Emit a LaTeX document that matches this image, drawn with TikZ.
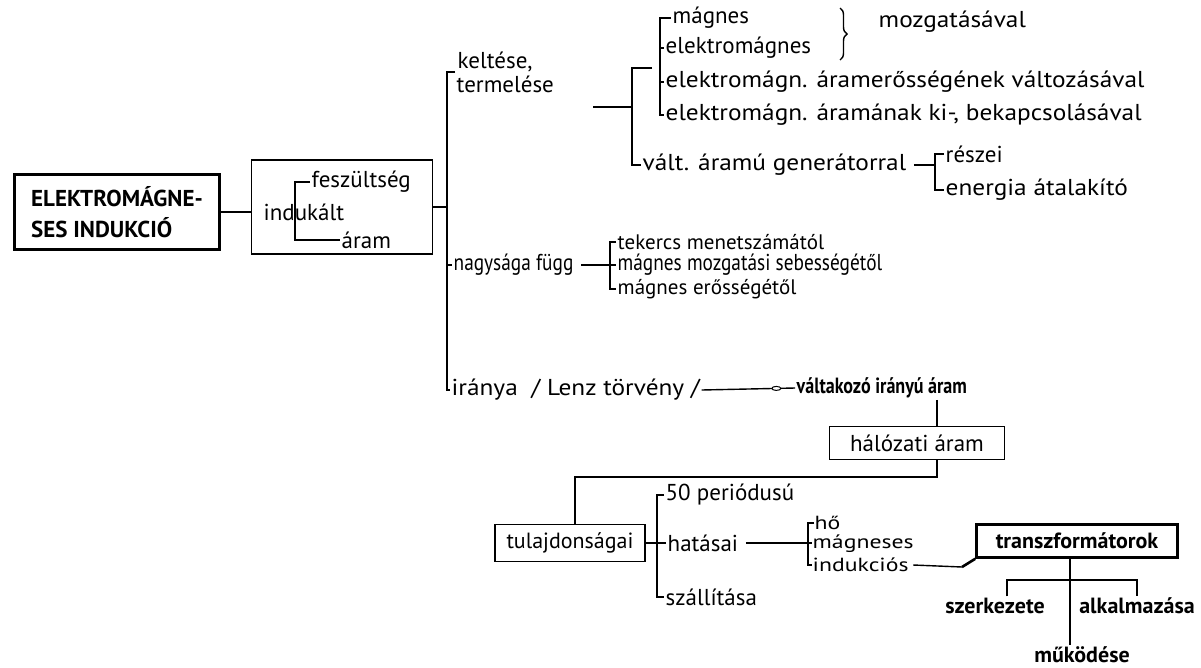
\documentclass[tikz,border=0pt]{standalone}
\usepackage{fontspec}
\setmainfont{PT Sans}
\newfontfamily\narrowfont[FakeStretch=0.84]{PT Sans}
\newfontfamily\widefont[FakeStretch=1.1]{PT Sans}
\newfontfamily\extrafont[FakeStretch=1.25]{PT Sans}
\newfontfamily\thinbold[FakeStretch=0.82]{PT Sans}
\usetikzlibrary{decorations.pathreplacing,shapes.geometric}

\newcommand{\fs}{\fontsize{23}{25}\selectfont}
\newcommand{\fw}{\widefont\fontsize{23}{25}\selectfont}
\newcommand{\fn}{\narrowfont\fontsize{23}{25}\selectfont}
\newcommand{\fx}{\extrafont\fontsize{19}{21}\selectfont}
\newcommand{\fb}{\fontsize{22}{24}\selectfont\bfseries}
\newcommand{\fv}{\thinbold\fontsize{22}{24}\selectfont\bfseries}
\tikzset{
  lbl/.style={anchor=west,inner sep=1pt,font=\fs},
  item/.style={inner sep=1pt,font=\fb},
  frame/.style={draw,line width=1.4pt,inner sep=2pt,font=\fs},
  heavyframe/.style={draw,line width=2.6pt,inner sep=3pt},
  knot/.style={draw,ellipse,fill=white,minimum width=9pt,minimum height=4pt,inner sep=0pt,line width=1pt}
}

\begin{document}
\begin{tikzpicture}[x=1pt,y=-1pt,line width=1.4pt]
  \useasboundingbox (0,0) rectangle (1201,667);

  % left boxes
  \node[heavyframe,align=left,minimum width=205pt,minimum height=75pt,
        font=\fontsize{23}{31}\selectfont\bfseries] (main) at (117,212)
        {ELEKTROMÁGNE-\\SES INDUKCIÓ};
  \node[frame,minimum width=181pt,minimum height=94pt] (indbox) at (342,207) {};
  \node[lbl] (indukalt) at (262,212) {indukált};
  \node[lbl] (feszult) at (310,182) {feszültség};
  \node[lbl] (aramb) at (340,240) {áram};
  \coordinate (ispine) at (295,240);
  \draw (feszult.west) -| (ispine) -- (aramb.west);
  \draw (main.east) -- (main.east -| indbox.west);

  % main spine
  \coordinate (sptop) at (447,72);
  \node[lbl] (keltes) at (456,62) {keltése,};
  \node[lbl] (termel) at (455,84) {termelése};
  \node[lbl,font=\fw] (iranya) at (450,390) {iránya~~/ Lenz törvény /};
  \node[lbl,font=\fn] (nagysag) at (452,265) {nagysága függ};
  \draw (sptop -| termel.west) -- (sptop) |- (iranya.west);
  \draw (indbox.east) -- (indbox.east -| sptop);
  \draw (nagysag.west -| sptop) -- (nagysag.west);

  % keltese, termelese
  \coordinate (tline) at (593,107);
  \coordinate (gtop) at (632,68);
  \coordinate (gstub) at (652,68);
  \node[lbl,font=\fw] (valt) at (641,165) {vált. áramú generátorral};
  \draw (tline) -- (tline -| gtop);
  \draw (gstub) -- (gtop) |- (valt.west);
  \node[lbl] (magnes) at (671,18) {mágnes};
  \node[lbl] (elmag) at (664,48) {elektromágnes};
  \node[lbl,font=\fw] (elmagv) at (664,82) {elektromágn. áramerősségének változásával};
  \node[lbl,font=\fw] (elmagk) at (664,115) {elektromágn. áramának ki-, bekapcsolásával};
  \coordinate (mspine) at (660,115);
  \draw (magnes.west) -| (mspine) -- (elmagk.west);
  \draw (elmag.west -| mspine) -- (elmag.west);
  \draw (elmagv.west -| mspine) -- (elmagv.west);
  \coordinate (brtop) at (840,8);
  \coordinate (brbot) at (840,60);
  \draw[decorate,decoration={brace,amplitude=7pt}] (brtop) -- (brbot);
  \node[lbl,font=\fw] (mozgat) at (877,22) {mozgatásával};
  \coordinate (rspine) at (935,190);
  \node[lbl] (reszei) at (944,154) {részei};
  \node[lbl,font=\fw] (energia) at (944,190) {energia átalakító};
  \draw (reszei.west) -| (rspine) -- (energia.west);
  \draw ([xshift=6pt]valt.east) -- (valt.east -| rspine);

  % nagysaga fugg
  \coordinate (nspine) at (610,289);
  \node[lbl,font=\fontsize{21}{23}\selectfont] (tekercs) at (616,242) {tekercs menetszámától};
  \node[lbl,font=\fn] (mozgseb) at (616,265) {mágnes mozgatási sebességétől};
  \node[lbl,font=\fontsize{21}{23}\selectfont] (eross) at (616,289) {mágnes erősségétől};
  \draw (tekercs.west) -| (nspine) -- (eross.west);
  \draw ([xshift=6pt]nagysag.east) -- (mozgseb.west);

  % iranya
  \node[lbl,font=\fv] (valtak) at (795,388) {váltakozó irányú áram};
  \draw (iranya.east) -- node[knot,pos=0.8]{} (valtak.west);
  \coordinate (hcol) at (937,477);
  \node[frame,minimum width=175pt,minimum height=33pt] (halozat) at (917,443) {hálózati áram};
  \node[frame,minimum width=150pt,minimum height=37pt,font=\fontsize{22}{24}\selectfont] (tulaj) at (570,543) {tulajdonságai};
  \draw (hcol |- valtak.south) -- (hcol |- halozat.north);
  \draw (hcol |- halozat.south) -- (hcol) -| ([xshift=5pt]tulaj.north);

  % tulajdonsagai
  \coordinate (tspine) at (657,597);
  \node[lbl] (periodus) at (664,495) {50 periódusú};
  \node[lbl] (hatasai) at (666,543) {hatásai};
  \node[lbl] (szallit) at (664,597) {szállítása};
  \draw (periodus.west) -| (tspine) -- (szallit.west);
  \draw (tulaj.east) -- (hatasai.west);
  \coordinate (hspine) at (808,565);
  \node[lbl,font=\fx,inner sep=0pt] (ho) at (814,523) {hő};
  \node[lbl,font=\fx,inner sep=0pt] (magneses) at (812,544) {mágneses};
  \node[lbl,font=\fx,inner sep=0pt] (indukcios) at (812,565) {indukciós};
  \draw (ho.west) -| (hspine) -- (indukcios.west);
  \draw ([xshift=6pt]hatasai.east) -- (hatasai.east -| magneses.west);

  % transzformatorok
  \node[heavyframe,font=\fb,minimum width=201pt,minimum height=33pt] (trafo) at (1077,541) {transzformátorok};
  \coordinate (tkink) at (962,567);
  \draw ([xshift=4pt]indukcios.east) -- (tkink);
  \draw[line width=2.6pt] (tkink) -- (trafo.south west);
  \coordinate (tbar) at (1070,580);
  \node[item] (szerk) at (995,606) {szerkezete};
  \node[item] (alkalm) at (1137,606) {alkalmazása};
  \node[item] (mukod) at (1082,655) {működése};
  \draw ([xshift=12pt]szerk.north) |- (tbar) -| (alkalm.north);
  \draw (trafo.south -| tbar) -- (tbar |- mukod.north);
\end{tikzpicture}
\end{document}
